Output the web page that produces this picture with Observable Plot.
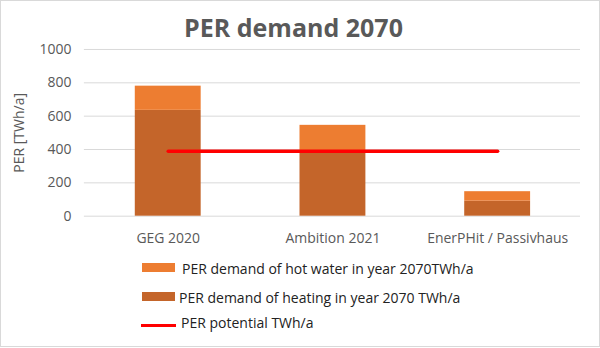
<!DOCTYPE html>
<html>
<head>
<meta charset="utf-8">
<script src="https://cdn.jsdelivr.net/npm/d3@7"></script>
<script src="https://cdn.jsdelivr.net/npm/@observablehq/plot@0.6"></script>
<style>
  html, body { margin: 0; padding: 0; background: #fff; }
  #chart { position: relative; width: 598px; height: 345px; border: 1px solid #d9d9d9; font-family: "Open Sans", sans-serif; overflow: hidden; }
  #title { position: absolute; left: 0; width: 585px; top: 9px; text-align: center; font-size: 25px; font-weight: bold; color: #595959; line-height: 34px; }
  #plot { position: absolute; left: -1px; top: 39px; }
  .leg { position: absolute; font-size: 14px; color: #222; line-height: 18px; white-space: nowrap; }
  .sw { position: absolute; }
</style>
</head>
<body>
<div id="chart">
  <div id="title">PER demand 2070</div>
  <div id="plot"></div>
  <div class="sw" style="left:141px; top:262px; width:33px; height:9px; background:#ED7D31"></div>
  <div class="leg" style="left:181px; top:259px;">PER demand of hot water in year 2070TWh/a</div>
  <div class="sw" style="left:141px; top:291px; width:33px; height:9px; background:#C4652A"></div>
  <div class="leg" style="left:178px; top:288px;">PER demand of heating in year 2070 TWh/a</div>
  <div class="sw" style="left:140px; top:323px; width:35px; height:3px; background:#FF0000"></div>
  <div class="leg" style="left:180px; top:313px;">PER potential TWh/a</div>
</div>
<script>
const categories = ["GEG 2020", "Ambition 2021", "EnerPHit / Passivhaus"];
const heating = [635, 380, 90];
const hotWater = [145, 165, 57];
const potential = [390, 390, 390];
const yTicks = [0, 200, 400, 600, 800, 1000];
const yLabel = "PER [TWh/a]";

const seriesNames = ["Heating", "Hot water"];
const seriesColors = ["#C4652A", "#ED7D31"];

const rows = [];
categories.forEach((c, i) => {
  rows.push({category: c, series: seriesNames[0], value: heating[i]});
  rows.push({category: c, series: seriesNames[1], value: hotWater[i]});
});
const lineRows = categories.map((c, i) => ({category: c, value: potential[i]}));

const plot = Plot.plot({
  width: 600,
  height: 216,
  marginTop: 9,
  marginBottom: 40,
  marginLeft: 84,
  marginRight: 19,
  style: { fontFamily: "Open Sans, sans-serif", fontSize: "14px", color: "#595959", background: "transparent" },
  x: { domain: categories, paddingInner: 0.6, paddingOuter: 0.3, label: null },
  y: { domain: [0, 1000], label: null },
  color: { domain: seriesNames, range: seriesColors },
  marks: [
    Plot.gridY(yTicks, { stroke: "#d9d9d9", strokeOpacity: 1 }),
    Plot.axisY(yTicks, { tickSize: 0, tickPadding: 13, label: null, tickFormat: d => String(d), color: "#595959", fontSize: 14 }),
    Plot.text([yLabel], { frameAnchor: "left", textAnchor: "middle", rotate: -90, dx: -65, fill: "#595959", fontSize: 14 }),
    Plot.axisX({ tickSize: 0, tickPadding: 17, label: null, color: "#595959", fontSize: 14 }),
    Plot.barY(rows, Plot.stackY({ x: "category", y: "value", fill: "series", order: seriesNames })),
    Plot.lineY(lineRows, { x: "category", y: "value", stroke: "#FF0000", strokeWidth: 3.5 })
  ]
});
document.getElementById("plot").appendChild(plot);
</script>
</body>
</html>
